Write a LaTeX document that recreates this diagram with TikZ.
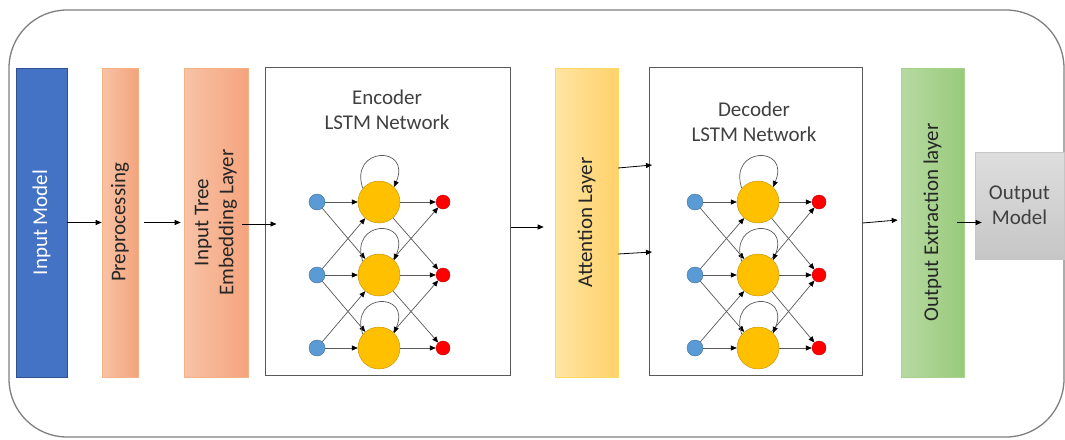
\documentclass[tikz,border=0pt]{standalone}
\usepackage{fontspec}
\setmainfont{Carlito}
\usetikzlibrary{arrows.meta}
\definecolor{frame}{HTML}{7F7F7F}
\definecolor{txt}{HTML}{262626}
\definecolor{gtxt}{HTML}{404040}
\definecolor{inblue}{HTML}{4472C4}
\definecolor{inblueb}{HTML}{2F528F}
\definecolor{orL}{HTML}{F8C3A6}
\definecolor{orR}{HTML}{F4A37D}
\definecolor{orB}{HTML}{F4B183}
\definecolor{yeL}{HTML}{FFE4A3}
\definecolor{yeR}{HTML}{FFD26A}
\definecolor{yeB}{HTML}{FFD966}
\definecolor{grL}{HTML}{B7DAA2}
\definecolor{grR}{HTML}{98CA7B}
\definecolor{grB}{HTML}{A9D18E}
\definecolor{gyT}{HTML}{DEDEDE}
\definecolor{gyB}{HTML}{C6C6C6}
\definecolor{nblue}{HTML}{5B9BD5}
\definecolor{nblueb}{HTML}{41719C}
\definecolor{nyel}{HTML}{FFC000}
\definecolor{nyelb}{HTML}{BF9000}
\definecolor{nred}{HTML}{FF0000}
\definecolor{nredb}{HTML}{C00000}
\definecolor{edge}{HTML}{595959}
\newcommand\lstmnet[4]{%
  \foreach \i/\yy in {1/202,2/275,3/348}{
    \node[bnode] (#1b\i) at (#2,\yy) {};
    \node[ynode] (#1y\i) at (#3,\yy) {};
    \node[rnode] (#1r\i) at (#4,\yy) {};
  }
  \foreach \a/\b in {1/1,1/2,2/1,2/2,2/3,3/2,3/3}{
    \draw[net] (#1b\a) -- (#1y\b);
    \draw[net] (#1y\a) -- (#1r\b);
  }
  \foreach \i in {1,2,3}{
    \draw[net] (#1y\i.140) .. controls +(-14,-42) and +(18,-42) .. (#1y\i.45);
  }
}
\begin{document}
\begin{tikzpicture}[x=1pt,y=-1pt,
  lbl/.style={font=\fontsize{21}{25}\selectfont, text=txt, align=center, inner sep=0pt},
  blk/.style={draw, line width=0.6pt, inner sep=0pt},
  netbox/.style={draw=edge, line width=1pt, fill=white, inner sep=0pt, minimum width=#1, minimum height=308},
  bnode/.style={circle, fill=nblue, draw=nblueb, line width=0.4pt, minimum size=16, inner sep=0pt},
  ynode/.style={circle, fill=nyel, draw=nyelb, line width=0.4pt, minimum size=42, inner sep=0pt},
  rnode/.style={circle, fill=nred, draw=nredb, line width=0.4pt, minimum size=14, inner sep=0pt},
  net/.style={draw=edge, line width=0.7pt, -{Triangle[length=6pt,width=5pt,color=black]}},
  arr/.style={draw=black, line width=0.8pt, -{Triangle[length=6pt,width=5pt]}}]
\useasboundingbox (0,0) rectangle (1065,439);
% outer frame
\draw[frame, line width=1.3pt, rounded corners=58] (9,10) rectangle (1064,437);
% blocks
\node[blk, fill=inblue, draw=inblueb, minimum width=51, minimum height=309] (inp) at (41.5,222.5) {};
\node[lbl, rotate=90, text=white] (inpT) at (inp) {Input Model};
\node[blk, left color=orL, right color=orR, draw=orB, minimum width=36, minimum height=309] (pre) at (120,222.5) {};
\node[lbl, rotate=90] (preT) at (pre) {Preprocessing};
\node[blk, left color=orL, right color=orR, draw=orB, minimum width=64, minimum height=309] (ite) at (216,222.5) {};
\node[lbl, rotate=90] (iteT) at (ite) {Input Tree\\Embedding Layer};
\node[netbox=245] (enc) at (387.5,221) {};
\node[lbl, text=gtxt] (encT) at (387,110) {Encoder\\LSTM Network};
\node[blk, left color=yeL, right color=yeR, draw=yeB, minimum width=63, minimum height=309] (att) at (586.5,222.5) {};
\node[lbl, rotate=90] (attT) at (att) {Attention Layer};
\node[netbox=213] (dec) at (755.5,221) {};
\node[lbl, text=gtxt] (decT) at (754,122) {Decoder\\LSTM Network};
\node[blk, left color=grL, right color=grR, draw=grB, minimum width=63, minimum height=309] (oel) at (932.5,222.5) {};
\node[lbl, rotate=90] (oelT) at (oel) {Output Extraction layer};
\node[blk, top color=gyT, bottom color=gyB, draw=gyB, minimum width=89, minimum height=107] (out) at (1019.5,205.5) {};
\node[lbl, text=gtxt] (outT) at (out) {Output\\Model};
% networks
\lstmnet{e}{317}{379}{443}
\lstmnet{d}{695}{758}{819}
% connectors
\draw[arr] (inp.east) -- (pre.west);
\draw[arr] ([xshift=6]pre.east) -- ([xshift=-3]ite.west);
\draw[arr] ([xshift=-6,yshift=-1.5]ite.east) -- ([xshift=12]enc.west |- 0,224);
\draw[arr] ([yshift=-6]enc.east) -- ([xshift=-11,yshift=-4.5]att.west);
\draw[arr] (618,168) coordinate (a1) -- (652,165) coordinate (d1);
\draw[arr] (618,254) coordinate (a2) -- (652,252) coordinate (d2);
\draw[arr] ([yshift=-2]dec.east) -- ([xshift=-3,yshift=2.5]oel.west);
\draw[arr] ([xshift=-7]oel.east) -- ([xshift=7]out.west |- oel.east);
\end{tikzpicture}
\end{document}
